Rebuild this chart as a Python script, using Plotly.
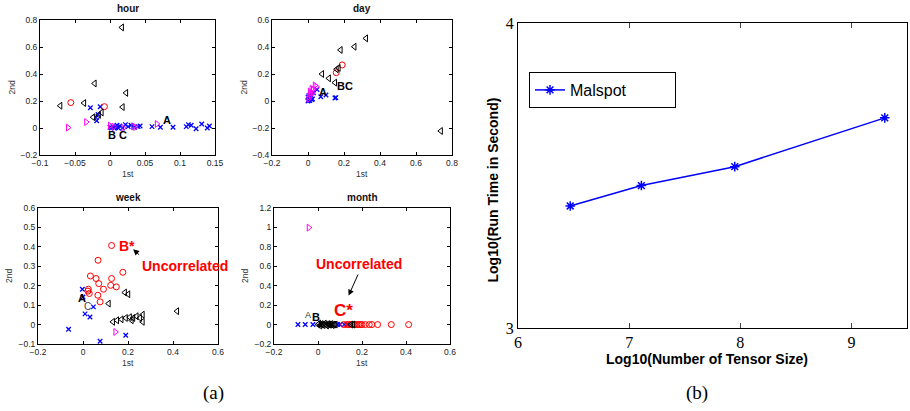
import plotly.graph_objects as go

W, H = 910, 411

# ---------------- data: panel (a) ----------------
# hour
hour_tl_x = [0.017, -0.022, 0.023, -0.071, -0.037, 0.018, -0.024, -0.012, -0.016]
hour_tl_y = [0.745, 0.33, 0.26, 0.165, 0.185, 0.155, 0.08, 0.115, 0.097]
hour_ci_x = [-0.056, -0.008]
hour_ci_y = [0.188, 0.158]
hour_tr_x = [-0.06, -0.034, 0.0, 0.005, 0.019, 0.033, 0.036, 0.067]
hour_tr_y = [0.003, 0.044, 0.018, 0.01, 0.0, 0.012, 0.007, 0.03]
hour_bx_x = [-0.028, -0.014, -0.02, -0.019, -0.017, 0.0, 0.002, 0.004, 0.006, 0.008,
             0.01, 0.012, 0.014, 0.018, 0.022, 0.026, 0.03, 0.035, 0.04, 0.043,
             0.06, 0.072, 0.09, 0.109, 0.112, 0.116, 0.123, 0.131, 0.139, 0.142]
hour_bx_y = [0.15, 0.158, 0.079, 0.054, 0.1, 0.005, 0.0, 0.01, 0.0, 0.005,
             0.02, 0.0, 0.015, 0.0, 0.025, 0.01, 0.02, 0.005, 0.01, 0.015,
             0.01, 0.005, 0.005, 0.01, 0.025, 0.02, -0.005, 0.03, 0.0, 0.015]
# day
day_tl_x = [0.322, 0.258, 0.181, 0.159, 0.078, 0.116, 0.15, 0.738, 0.17]
day_tl_y = [0.464, 0.402, 0.378, 0.235, 0.2, 0.168, 0.136, -0.222, 0.245]
day_ci_x = [0.19, 0.157]
day_ci_y = [0.267, 0.21]
day_tr_x = [0.047, 0.038, 0.028, 0.02, 0.013, 0.01, 0.006, 0.003, 0.025, 0.015]
day_tr_y = [0.106, 0.115, 0.086, 0.09, 0.057, 0.07, 0.032, 0.015, 0.06, 0.045]
day_bx_x = [0.0, 0.003, 0.006, 0.01, 0.015, 0.02, 0.0, 0.005, 0.012, 0.025,
            0.05, 0.071, 0.1, 0.15, 0.155, 0.03]
day_bx_y = [0.0, 0.005, 0.01, 0.003, 0.02, 0.01, 0.03, 0.04, 0.035, 0.015,
            0.085, 0.032, 0.044, 0.022, 0.025, 0.06]
# week
week_tl_x = [0.186, 0.201, 0.114, 0.418, 0.133, 0.151, 0.171, 0.19, 0.208, 0.223,
             0.238, 0.253, 0.265, 0.265, 0.216]
week_tl_y = [0.165, 0.156, 0.108, 0.069, 0.014, 0.022, 0.027, 0.034, 0.038, 0.034,
             0.043, 0.034, 0.051, 0.014, 0.022]
week_ci_x = [0.127, 0.067, 0.033, 0.058, 0.07, 0.127, 0.177, 0.123, 0.148, 0.091,
             0.024, 0.028, 0.066, 0.076, 0.022]
week_ci_y = [0.407, 0.331, 0.25, 0.237, 0.211, 0.237, 0.269, 0.202, 0.194, 0.182,
             0.182, 0.16, 0.151, 0.117, 0.172]
week_tr_x = [0.144]
week_tr_y = [-0.038]
week_bx_x = [-0.003, 0.0, 0.046, 0.009, 0.031, -0.064, 0.076, 0.19]
week_bx_y = [0.182, 0.142, 0.091, 0.055, 0.039, -0.024, -0.086, -0.055]
# month
month_tl_x = [0.0, 0.005, 0.01, 0.015, 0.02, 0.025, 0.03, 0.035, 0.04, 0.045,
              0.05, 0.055, 0.06, 0.065, 0.07, 0.075, 0.08, 0.15, 0.16]
month_tl_y = [0.0, 0.01, -0.01, 0.005, 0.0, -0.005, 0.01, 0.0, -0.01, 0.005,
              0.0, 0.0, 0.005, -0.005, 0.0, 0.0, 0.0, 0.0, 0.0]
month_ci_x = [0.117, 0.13, 0.139, 0.147, 0.155, 0.163, 0.17, 0.178, 0.185, 0.193,
              0.2, 0.215, 0.233, 0.245, 0.271, 0.333, 0.412]
month_ci_y = [0.0] * 17
month_tr_x = [-0.042]
month_tr_y = [0.998]
month_bx_x = [-0.091, -0.058, -0.023, 0.089, 0.1, 0.12, 0.135]
month_bx_y = [0.0] * 7

# ---------------- data: panel (b) ----------------
tensor_size_log = [6.47, 7.11, 7.95, 9.30]
run_time_log = [3.40, 3.467, 3.529, 3.689]

# ---------------- ticks ----------------
hour_xt = [-0.1, -0.05, 0, 0.05, 0.1, 0.15]
hour_xl = ["\u22120.1", "\u22120.05", "0", "0.05", "0.1", "0.15"]
hour_yt = [-0.2, 0, 0.2, 0.4, 0.6, 0.8]
hour_yl = ["\u22120.2", "0", "0.2", "0.4", "0.6", "0.8"]
day_xt = [-0.2, 0, 0.2, 0.4, 0.6, 0.8]
day_xl = ["\u22120.2", "0", "0.2", "0.4", "0.6", "0.8"]
day_yt = [-0.4, -0.2, 0, 0.2, 0.4, 0.6]
day_yl = ["\u22120.4", "\u22120.2", "0", "0.2", "0.4", "0.6"]
week_xt = [-0.2, 0, 0.2, 0.4, 0.6]
week_xl = ["\u22120.2", "0", "0.2", "0.4", "0.6"]
week_yt = [-0.1, 0, 0.1, 0.2, 0.3, 0.4, 0.5, 0.6]
week_yl = ["\u22120.1", "0", "0.1", "0.2", "0.3", "0.4", "0.5", "0.6"]
month_xt = [-0.2, 0, 0.2, 0.4, 0.6]
month_xl = ["\u22120.2", "0", "0.2", "0.4", "0.6"]
month_yt = [-0.2, 0, 0.2, 0.4, 0.6, 0.8, 1.0, 1.2]
month_yl = ["\u22120.2", "0", "0.2", "0.4", "0.6", "0.8", "1", "1.2"]
b_xt = [6, 7, 8, 9]
b_yt = [3, 4]

fig = go.Figure()

def px_x(p):
    return p / W

def px_y(p):
    return 1 - p / H

# subplot boxes in pixels: (left, right, top, bottom)
boxes = {
    1: (40, 215, 20, 155),
    2: (272, 452, 20, 155),
    3: (38, 218, 208, 344),
    4: (274, 450, 208, 344),
}
ranges = {
    1: ([-0.1, 0.15], [-0.2, 0.8], hour_xt, hour_xl, hour_yt, hour_yl),
    2: ([-0.2, 0.8], [-0.4, 0.6], day_xt, day_xl, day_yt, day_yl),
    3: ([-0.2, 0.6], [-0.1, 0.6], week_xt, week_xl, week_yt, week_yl),
    4: ([-0.2, 0.6], [-0.2, 1.2], month_xt, month_xl, month_yt, month_yl),
}
titles = {1: "hour", 2: "day", 3: "week", 4: "month"}

series = {
    1: (hour_tl_x, hour_tl_y, hour_ci_x, hour_ci_y, hour_tr_x, hour_tr_y, hour_bx_x, hour_bx_y),
    2: (day_tl_x, day_tl_y, day_ci_x, day_ci_y, day_tr_x, day_tr_y, day_bx_x, day_bx_y),
    3: (week_tl_x, week_tl_y, week_ci_x, week_ci_y, week_tr_x, week_tr_y, week_bx_x, week_bx_y),
    4: (month_tl_x, month_tl_y, month_ci_x, month_ci_y, month_tr_x, month_tr_y, month_bx_x, month_bx_y),
}

small_font = dict(family="Liberation Sans, Arial", size=8.5, color="#222")
annotations = []

for i in range(1, 5):
    l, r, t, b = boxes[i]
    xr, yr, xt, xl, yt, yl = ranges[i]
    xa = "x" if i == 1 else f"x{i}"
    ya = "y" if i == 1 else f"y{i}"
    tlx, tly, cix, ciy, trx, tr_y, bxx, bxy = series[i]
    common = dict(xaxis=xa, yaxis=ya, mode="markers", showlegend=False, hoverinfo="skip")
    fig.add_trace(go.Scatter(x=bxx, y=bxy, marker=dict(symbol="x-thin", size=4.5,
                  line=dict(color="#0000ff", width=1.3)), **common))
    fig.add_trace(go.Scatter(x=trx, y=tr_y, marker=dict(symbol="triangle-right-open", size=6,
                  color="#ff00ff", line=dict(width=1)), **common))
    fig.add_trace(go.Scatter(x=cix, y=ciy, marker=dict(symbol="circle-open", size=6,
                  color="#ff0000", line=dict(width=1)), **common))
    fig.add_trace(go.Scatter(x=tlx, y=tly, marker=dict(symbol="triangle-left-open", size=6,
                  color="#000000", line=dict(width=1)), **common))

    axcommon = dict(showgrid=False, zeroline=False, showline=True, linecolor="black",
                    linewidth=1, mirror="ticks", ticks="inside", ticklen=3,
                    tickcolor="black", tickfont=small_font, automargin=False)
    xkey = "xaxis" if i == 1 else f"xaxis{i}"
    ykey = "yaxis" if i == 1 else f"yaxis{i}"
    fig.update_layout({
        xkey: dict(domain=[px_x(l), px_x(r)], range=xr, anchor=ya, tickvals=xt,
                   ticktext=xl, **axcommon),
        ykey: dict(domain=[px_y(b), px_y(t)], range=yr, anchor=xa, tickvals=yt,
                   ticktext=yl, **axcommon),
    })
    cx = (l + r) / 2
    annotations.append(dict(xref="paper", yref="paper", x=px_x(cx), y=px_y(t - 11),
                            text=f"<b>{titles[i]}</b>", showarrow=False,
                            font=dict(family="Liberation Sans, Arial", size=10, color="#111"),
                            xanchor="center", yanchor="middle"))
    annotations.append(dict(xref="paper", yref="paper", x=px_x(cx), y=px_y(b + 19),
                            text="1st", showarrow=False,
                            font=dict(family="Liberation Sans, Arial", size=8.5, color="#333"),
                            xanchor="center", yanchor="middle"))
    annotations.append(dict(xref="paper", yref="paper", x=px_x(l - 29), y=px_y((t + b) / 2),
                            text="2nd", showarrow=False, textangle=-90,
                            font=dict(family="Liberation Sans, Arial", size=8.5, color="#333"),
                            xanchor="center", yanchor="middle"))

lab = dict(family="Liberation Sans, Arial", size=11, color="black")
red_big = dict(family="Liberation Sans, Arial", size=14, color="#ff0000")

def note(xref, yref, x, y, text, font):
    return dict(xref=xref, yref=yref, x=x, y=y, text=text, showarrow=False, font=font,
                xanchor="center", yanchor="middle")

# hour labels
annotations += [note("x", "y", 0.081, 0.056, "<b>A</b>", lab),
                note("x", "y", 0.003, -0.052, "<b>B</b>", lab),
                note("x", "y", 0.019, -0.052, "<b>C</b>", lab)]
# day labels
annotations += [note("x2", "y2", 0.206, 0.111, "<b>BC</b>", lab),
                note("x2", "y2", 0.084, 0.069, "<b>A</b>", lab)]
# week labels
annotations += [note("x3", "y3", -0.004, 0.135, "<b>A</b>", lab),
                note("x3", "y3", 0.018, 0.095, "C", dict(family="Liberation Sans, Arial", size=10, color="#444")),
                note("x3", "y3", 0.195, 0.405, "<b>B*</b>", red_big),
                note("x3", "y3", 0.455, 0.302, "<b>Uncorrelated</b>", red_big)]
annotations.append(dict(xref="x3", yref="y3", x=0.223, y=0.388, ax=0.256, ay=0.352,
                        axref="x3", ayref="y3", showarrow=True, arrowhead=2, arrowsize=1.2,
                        arrowwidth=1, arrowcolor="black", text=""))
# month labels
annotations += [note("x4", "y4", -0.047, 0.1, "A", dict(family="Liberation Sans, Arial", size=9, color="#333")),
                note("x4", "y4", -0.011, 0.082, "<b>B</b>", lab),
                note("x4", "y4", 0.114, 0.15, "<b>C*</b>", dict(family="Liberation Sans, Arial", size=17, color="#ff0000")),
                note("x4", "y4", 0.185, 0.62, "<b>Uncorrelated</b>", red_big)]
annotations.append(dict(xref="x4", yref="y4", x=0.139, y=0.298, ax=0.185, ay=0.53,
                        axref="x4", ayref="y4", showarrow=True, arrowhead=2, arrowsize=1.2,
                        arrowwidth=1, arrowcolor="black", text=""))

# ---------------- panel (b) ----------------
fig.add_trace(go.Scatter(x=tensor_size_log, y=run_time_log, xaxis="x5", yaxis="y5",
                         mode="lines+markers", name="Malspot",
                         line=dict(color="#0000ff", width=1.5),
                         marker=dict(symbol="asterisk-open", size=8,
                                     line=dict(color="#0000ff", width=1.5))))
bl, br, bt, bb = 518, 907, 23, 328
big_tick = dict(family="Liberation Serif, Times New Roman", size=16, color="black")
fig.update_layout(
    xaxis5=dict(domain=[px_x(bl), px_x(br)], range=[6, 9.5], anchor="y5", tickvals=b_xt,
                showgrid=False, zeroline=False, showline=True, linecolor="black", linewidth=1,
                mirror="ticks", ticks="inside", ticklen=5, tickfont=big_tick, automargin=False),
    yaxis5=dict(domain=[px_y(bb), px_y(bt)], range=[3, 4], anchor="x5", tickvals=b_yt,
                showgrid=False, zeroline=False, showline=True, linecolor="black", linewidth=1,
                mirror="ticks", ticks="inside", ticklen=5, tickfont=big_tick, automargin=False),
)
annotations.append(dict(xref="paper", yref="paper", x=px_x((bl + br) / 2 - 6), y=px_y(359),
                        text="<b>Log10(Number of Tensor Size)</b>", showarrow=False,
                        font=dict(family="Liberation Sans, Arial", size=14, color="black"),
                        xanchor="center", yanchor="middle"))
annotations.append(dict(xref="paper", yref="paper", x=px_x(492), y=px_y((bt + bb) / 2 + 14),
                        text="<b>Log10(Run Time in Second)</b>", showarrow=False, textangle=-90,
                        font=dict(family="Liberation Sans, Arial", size=14, color="black"),
                        xanchor="center", yanchor="middle"))
# captions
cap = dict(family="Liberation Serif, Times New Roman", size=19, color="black")
annotations.append(note("paper", "paper", px_x(213), px_y(393), "(a)", cap))
annotations.append(note("paper", "paper", px_x(697), px_y(393), "(b)", cap))

fig.update_layout(
    width=W, height=H, margin=dict(l=0, r=0, t=0, b=0, autoexpand=False),
    paper_bgcolor="white", plot_bgcolor="white",
    annotations=annotations,
    showlegend=True,
    hovermode=False,
    legend=dict(x=px_x(529), y=px_y(72), xanchor="left", yanchor="top",
                bordercolor="black", borderwidth=1, bgcolor="white",
                font=dict(family="Liberation Sans, Arial", size=16, color="black"),
                orientation="h", entrywidth=100, entrywidthmode="pixels",
                itemwidth=30, tracegroupgap=0),
)

fig.write_html("out.html", config={"displayModeBar": False},
               post_script="document.body.style.margin='0';document.body.style.overflow='hidden';")
